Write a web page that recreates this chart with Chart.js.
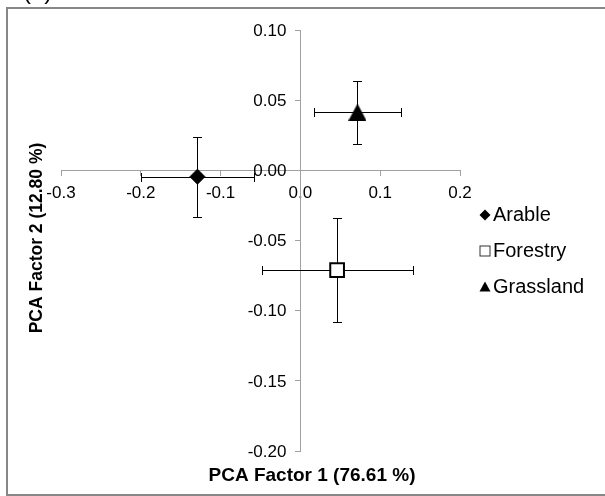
<!DOCTYPE html>
<html>
<head>
<meta charset="utf-8">
<script src="https://cdn.jsdelivr.net/npm/chart.js@4.4.1/dist/chart.umd.min.js"></script>
<style>
    html, body { margin: 0; padding: 0; background: #fff; }
    #wrap { position: relative; width: 605px; height: 496px; overflow: hidden; }
    canvas { display: block; }
</style>
</head>
<body>
<div id="wrap">
    <canvas id="pcaChart" width="605" height="496"></canvas>
</div>
<script>
// PCA scores per land use, with error bars on both factors
const groups = ['Arable', 'Forestry', 'Grassland'];
const factor1 = [-0.129, 0.046, 0.0715];
const factor2 = [-0.0045, -0.0711, 0.0415];
const factor1Err = [0.071, 0.0947, 0.0547];
const factor2Err = [0.0285, 0.0372, 0.0225];

const xTicks = [-0.3, -0.2, -0.1, 0.0, 0.1, 0.2];
const yTicks = [0.10, 0.05, 0.00, -0.05, -0.10, -0.15, -0.20];

const xTitle = 'PCA Factor 1 (76.61 %)';
const yTitle = 'PCA Factor 2 (12.80 %)';
const panelTag = '(a)';

const FONT = '"Liberation Sans", Arial, sans-serif';

function triangleImage(w, h) {
    const c = document.createElement('canvas');
    c.width = w;
    c.height = h;
    const g = c.getContext('2d');
    g.fillStyle = '#000';
    g.beginPath();
    g.moveTo(w / 2, 0);
    g.lineTo(w, h);
    g.lineTo(0, h);
    g.closePath();
    g.fill();
    return c;
}

const markers = [
    { pointStyle: 'rectRot', radius: 7.5, bg: '#000', border: '#000', borderWidth: 1 },
    { pointStyle: 'rect', radius: 9.7, bg: '#fff', border: '#000', borderWidth: 2 },
    { pointStyle: triangleImage(18, 17), radius: 9, bg: '#000', border: '#000', borderWidth: 0 }
];

const datasets = groups.map((g, i) => ({
    label: g,
    data: [{ x: factor1[i], y: factor2[i] }],
    pointStyle: markers[i].pointStyle,
    pointRadius: markers[i].radius,
    pointHoverRadius: markers[i].radius,
    backgroundColor: markers[i].bg,
    borderColor: markers[i].border,
    pointBorderWidth: markers[i].borderWidth
}));

// error bars go under the markers
const errorBars = {
    id: 'errorBars',
    beforeDatasetsDraw(chart) {
        const { ctx, scales: { x, y } } = chart;
        const cap = 4.5;
        const px = v => Math.round(v) + 0.5;
        ctx.save();
        ctx.strokeStyle = '#000';
        ctx.lineWidth = 1;
        groups.forEach((g, i) => {
            const cx = px(x.getPixelForValue(factor1[i]));
            const cy = px(y.getPixelForValue(factor2[i]));
            const x0 = px(x.getPixelForValue(factor1[i] - factor1Err[i]));
            const x1 = px(x.getPixelForValue(factor1[i] + factor1Err[i]));
            const y0 = px(y.getPixelForValue(factor2[i] + factor2Err[i]));
            const y1 = px(y.getPixelForValue(factor2[i] - factor2Err[i]));
            ctx.beginPath();
            ctx.moveTo(x0, cy); ctx.lineTo(x1, cy);
            ctx.moveTo(x0, cy - cap); ctx.lineTo(x0, cy + cap);
            ctx.moveTo(x1, cy - cap); ctx.lineTo(x1, cy + cap);
            ctx.moveTo(cx, y0); ctx.lineTo(cx, y1);
            ctx.moveTo(cx - cap, y0); ctx.lineTo(cx + cap, y0);
            ctx.moveTo(cx - cap, y1); ctx.lineTo(cx + cap, y1);
            ctx.stroke();
        });
        ctx.restore();
    }
};

// y tick labels sit left of the crossing axis with a gap (Chart.js puts them flush)
const yTickLabels = {
    id: 'yTickLabels',
    afterDraw(chart) {
        const { ctx, scales: { x, y } } = chart;
        const axisX = x.getPixelForValue(0);
        ctx.save();
        ctx.fillStyle = '#000';
        ctx.font = '17px ' + FONT;
        ctx.textAlign = 'right';
        ctx.textBaseline = 'middle';
        yTicks.forEach(v => {
            ctx.fillText(v.toFixed(2), axisX - 14, y.getPixelForValue(v) + 1);
        });
        ctx.restore();
    }
};

// frame, axis titles, panel tag and the legend
const decorations = {
    id: 'decorations',
    afterDraw(chart) {
        const ctx = chart.ctx;
        ctx.save();

        ctx.strokeStyle = '#878787';
        ctx.lineWidth = 2;
        ctx.strokeRect(7, 8, 620, 487);

        ctx.fillStyle = '#000';
        ctx.font = '24px ' + FONT;
        ctx.textAlign = 'left';
        ctx.textBaseline = 'alphabetic';
        ctx.fillText(panelTag, 23, -1);

        ctx.font = 'bold 19px ' + FONT;
        ctx.textAlign = 'center';
        ctx.textBaseline = 'middle';
        ctx.fillText(xTitle, 312, 476);

        ctx.save();
        ctx.translate(37, 238);
        ctx.rotate(-Math.PI / 2);
        ctx.font = 'bold 17.5px ' + FONT;
        ctx.fillText(yTitle, 0, 0);
        ctx.restore();

        const legendY = [215, 251, 287];
        ctx.font = '20px ' + FONT;
        ctx.textAlign = 'left';
        groups.forEach((g, i) => {
            const mx = 485, my = legendY[i];
            ctx.beginPath();
            if (i === 0) {
                ctx.moveTo(mx - 5.5, my); ctx.lineTo(mx, my - 5.5);
                ctx.lineTo(mx + 5.5, my); ctx.lineTo(mx, my + 5.5);
                ctx.closePath();
                ctx.fill();
            } else if (i === 1) {
                ctx.lineWidth = 1;
                ctx.strokeStyle = '#333';
                ctx.strokeRect(mx - 5, my - 5, 10, 10);
            } else {
                ctx.moveTo(mx, my - 5.5); ctx.lineTo(mx + 5.5, my + 4.5);
                ctx.lineTo(mx - 5.5, my + 4.5);
                ctx.closePath();
                ctx.fill();
            }
            ctx.fillText(g, 493, my);
        });

        ctx.restore();
    }
};

const axisGrid = { drawOnChartArea: false, drawTicks: true, tickLength: 5, color: '#a0a0a0' };
const axisBorder = { display: true, color: '#a0a0a0', width: 1 };

new Chart(document.getElementById('pcaChart'), {
    type: 'scatter',
    data: { datasets },
    options: {
        responsive: false,
        animation: false,
        events: [],
        layout: { padding: { left: 61, right: 145, top: 30, bottom: 45 } },
        plugins: { legend: { display: false }, tooltip: { enabled: false } },
        scales: {
            x: {
                type: 'linear',
                position: { y: 0 },
                min: -0.3,
                max: 0.2,
                afterBuildTicks: s => { s.ticks = xTicks.map(v => ({ value: v })); },
                grid: axisGrid,
                border: axisBorder,
                ticks: {
                    autoSkip: false,
                    maxRotation: 0,
                    padding: 8,
                    color: '#000',
                    font: { family: FONT, size: 17 },
                    callback: v => v.toFixed(1)
                }
            },
            y: {
                type: 'linear',
                position: { x: 0 },
                min: -0.2,
                max: 0.1,
                afterBuildTicks: s => { s.ticks = yTicks.map(v => ({ value: v })); },
                grid: axisGrid,
                border: axisBorder,
                ticks: { display: false }
            }
        }
    },
    plugins: [errorBars, yTickLabels, decorations]
});
</script>
</body>
</html>
